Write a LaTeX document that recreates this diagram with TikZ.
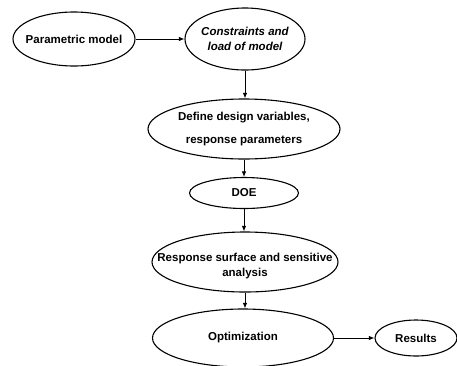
\documentclass[tikz,border=0pt]{standalone}
\usepackage{fontspec}
\setmainfont{Liberation Sans}
\usetikzlibrary{shapes.geometric,arrows.meta,positioning}

\begin{document}
\begin{tikzpicture}[x=1pt,y=-1pt,
  font=\fontsize{11.5}{14.5}\selectfont\bfseries,
  oval/.style={draw,ellipse,line width=1.1pt,inner sep=0pt},
  txt/.style={align=center,inner sep=0pt},
  arr/.style={-{Latex[length=2mm,width=1.6mm]},line width=0.8pt}]
\useasboundingbox (0,0) rectangle (457,365);
% ---------- top row ----------
\node[oval,minimum width=122,minimum height=54,label={[txt]center:Parametric model}] (param) at (74,39) {};
\node[oval,minimum width=120,minimum height=62,label={[txt,font=\fontsize{11.5}{15}\selectfont\bfseries\itshape]center:{Constraints and\\load of model}}] (cons) at (245,39) {};
% ---------- column ----------
\node[oval,minimum width=192,minimum height=60,label={[txt]center:{Define design variables,\\[9pt]response parameters}}] (dvar) at (244,129) {};
\node[oval,minimum width=109,minimum height=31,label={[txt]center:DOE}] (doe) at (244,193) {};
\node[oval,minimum width=186,minimum height=60,label={[txt,yshift=-4pt]center:{Response surface and sensitive\\analysis}}] (rsm) at (245,262) {};
\node[oval,minimum width=181,minimum height=58,label={[txt]center:Optimization}] (opt) at (243,338) {};
\node[oval,minimum width=82,minimum height=36,label={[txt]center:Results}] (res) at (416,338) {};
\draw[arr] (param) -- (cons);
\draw[arr] (cons.south) -- (cons.south |- dvar.north);
\draw[arr] (dvar.south) -- (dvar.south |- doe.north);
\draw[arr] (doe) -- (doe |- rsm.north);
\draw[arr] (rsm.south) -- (rsm.south |- opt.north);
\draw[arr] (opt) -- (res);
\end{tikzpicture}
\end{document}
